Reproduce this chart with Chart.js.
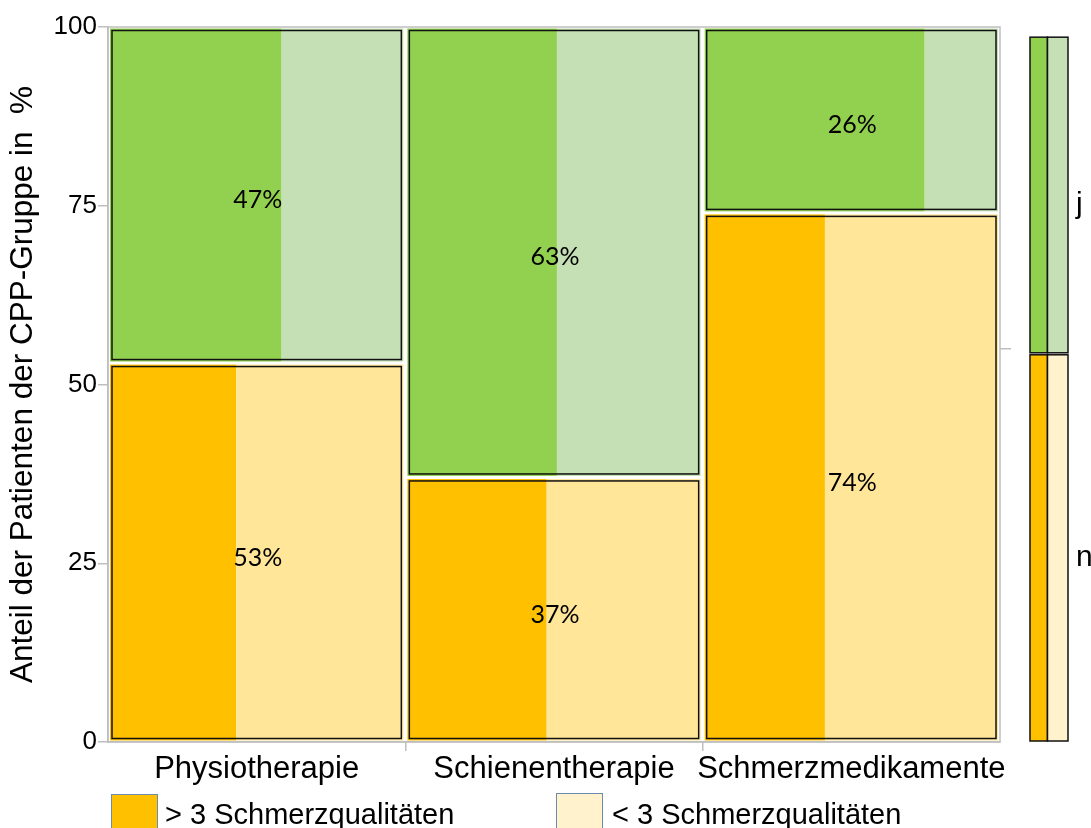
<!DOCTYPE html>
<html>
<head>
<meta charset="utf-8">
<script src="https://cdn.jsdelivr.net/npm/chart.js@4/dist/chart.umd.min.js"></script>
<style>
html, body { margin: 0; padding: 0; background: #fff; overflow: hidden; }
#wrap { position: relative; width: 1091px; height: 828px; overflow: hidden; }
.lg { position: absolute; font: 29px 'Liberation Sans', Arial, sans-serif; line-height: 29px; color: #000; white-space: nowrap; }
.sw { position: absolute; width: 47px; height: 40px; border: 1.5px solid #6a8ab0; box-sizing: border-box; }
</style>
</head>
<body>
<div id="wrap">
    <canvas id="chart" width="1091" height="828"></canvas>
    <div class="sw" style="left:111px;top:794px;background:#FFC000"></div>
    <div class="lg" style="left:165px;top:800px">&gt; 3 Schmerzqualitäten</div>
    <div class="sw" style="left:556px;top:793px;background:#FFF2CC"></div>
    <div class="lg" style="left:612px;top:800px">&lt; 3 Schmerzqualitäten</div>
</div>
<script>
const categories = ['Physiotherapie', 'Schienentherapie', 'Schmerzmedikamente'];
const anteilJa = [47, 63, 26];          // j, in %
const anteilNein = [53, 37, 74];        // n, in %
const mehrQualJa = [58.5, 51, 75];      // Anteil > 3 Schmerzqualitäten innerhalb j
const mehrQualNein = [43, 47.5, 41];    // Anteil > 3 Schmerzqualitäten innerhalb n
const gesamtNein = 55;                  // Randverteilung n
const gesamtMehrQual = 46;              // Randverteilung > 3 Schmerzqualitäten
const yTicks = [0, 25, 50, 75, 100];
const segLabels = ['j', 'n'];

const COLORS = {
    green: '#92D050',
    greenLight: '#C5E0B4',
    orange: '#FFC000',
    orangeLight: '#FFE699',
    orangePale: '#FFF2CC',
    frame: '#BFBFBF'
};

const mosaicPlugin = {
    id: 'mosaic',
    beforeDatasetsDraw(chart) {
        const { ctx, chartArea: a, scales: { x, y, y2 } } = chart;
        ctx.save();

        // Rahmen
        ctx.strokeStyle = COLORS.frame;
        ctx.lineWidth = 1.5;
        ctx.strokeRect(a.left, a.top, a.right - a.left, a.bottom - a.top);

        categories.forEach((cat, i) => {
            const x0 = x.getPixelForValue(i), x1 = x.getPixelForValue(i + 1);
            const blocks = [
                { lo: 0, hi: anteilNein[i], dark: COLORS.orange, light: COLORS.orangeLight, share: mehrQualNein[i], label: anteilNein[i] },
                { lo: anteilNein[i], hi: 100, dark: COLORS.green, light: COLORS.greenLight, share: mehrQualJa[i], label: anteilJa[i] }
            ];
            blocks.forEach(b => {
                const top = y.getPixelForValue(b.hi) + 1.5, bot = y.getPixelForValue(b.lo) - 1.5;
                const l = x0 + 2, r = x1 - 2;
                const split = l + (r - l) * b.share / 100;
                ctx.fillStyle = b.dark;
                ctx.fillRect(l, top, split - l, bot - top);
                ctx.fillStyle = b.light;
                ctx.fillRect(split, top, r - split, bot - top);
                ctx.strokeStyle = '#111';
                ctx.lineWidth = 1.5;
                ctx.strokeRect(l + 2, top + 2, r - l - 4, bot - top - 4);

                ctx.fillStyle = '#000';
                ctx.font = '25px Lato, "Open Sans", sans-serif';
                ctx.textAlign = 'center';
                ctx.textBaseline = 'middle';
                ctx.fillText(b.label + '%', (x0 + x1) / 2 + 1, (top + bot) / 2 + 5);
            });
        });

        // Randbalken rechts
        const ml = a.right + 30, mr = a.right + 68;
        const ms = ml + (mr - ml) * gesamtMehrQual / 100;
        const segs = [
            { lo: 0, hi: gesamtNein, dark: COLORS.orange, light: COLORS.orangePale, label: segLabels[1] },
            { lo: gesamtNein, hi: 100, dark: COLORS.green, light: COLORS.greenLight, label: segLabels[0] }
        ];
        segs.forEach(s => {
            const top = y2.getPixelForValue(s.hi) + 1, bot = y2.getPixelForValue(s.lo) - 1;
            ctx.lineWidth = 1.5;
            ctx.strokeStyle = '#111';
            ctx.fillStyle = s.dark;
            ctx.fillRect(ml, top, ms - ml, bot - top);
            ctx.strokeRect(ml, top, ms - ml, bot - top);
            ctx.fillStyle = s.light;
            ctx.fillRect(ms, top, mr - ms, bot - top);
            ctx.strokeRect(ms, top, mr - ms, bot - top);

            ctx.fillStyle = '#000';
            ctx.font = '30px "Liberation Sans", Arial, sans-serif';
            ctx.textAlign = 'left';
            ctx.textBaseline = 'alphabetic';
            ctx.fillText(s.label, a.right + 76, (top + bot) / 2 + 18);
        });

        // Marke rechts für Randverteilung
        const yt = y.getPixelForValue(gesamtNein);
        ctx.strokeStyle = COLORS.frame;
        ctx.lineWidth = 1.5;
        ctx.beginPath();
        ctx.moveTo(a.right, yt);
        ctx.lineTo(a.right + 11, yt);
        ctx.stroke();

        ctx.restore();
    }
};

Chart.defaults.font.family = '"Liberation Sans", Arial, sans-serif';
Chart.defaults.color = '#000';

new Chart(document.getElementById('chart').getContext('2d'), {
    type: 'scatter',
    data: { datasets: [] },
    options: {
        responsive: false,
        animation: false,
        layout: { padding: { top: 27, right: 91, left: 0, bottom: 0 } },
        plugins: { legend: { display: false }, tooltip: { enabled: false } },
        scales: {
            x: {
                type: 'linear',
                min: 0,
                max: categories.length,
                afterBuildTicks: s => {
                    const t = [];
                    for (let i = 0; i <= categories.length; i++) {
                        t.push({ value: i });
                        if (i < categories.length) t.push({ value: i + 0.5 });
                    }
                    s.ticks = t;
                },
                afterFit: s => { s.height = 86; },
                ticks: {
                    autoSkip: false,
                    maxRotation: 0,
                    minRotation: 0,
                    padding: 0,
                    font: { size: 31 },
                    callback: v => Number.isInteger(v) ? '' : categories[Math.floor(v)]
                },
                grid: {
                    drawOnChartArea: false,
                    tickLength: 9,
                    lineWidth: 1.5,
                    tickColor: c => (c.tick && Number.isInteger(c.tick.value) && c.tick.value > 0 && c.tick.value < categories.length) ? COLORS.frame : 'rgba(0,0,0,0)'
                },
                border: { display: true, color: COLORS.frame, width: 1.5 }
            },
            y: {
                min: 0,
                max: 100,
                afterBuildTicks: s => { s.ticks = yTicks.map(v => ({ value: v })); },
                afterFit: s => { s.width = 108; },
                ticks: { padding: 1, font: { size: 26 } },
                grid: { drawOnChartArea: false, tickLength: 10, lineWidth: 1.5, tickColor: COLORS.frame },
                border: { display: true, color: COLORS.frame, width: 1.5 },
                title: {
                    display: true,
                    text: 'Anteil der Patienten der CPP-Gruppe in  %',
                    font: { size: 31.5 },
                    padding: { top: 4, bottom: 0 }
                }
            },
            y2: {
                type: 'linear',
                display: false,
                min: 0,
                max: 101.3
            }
        }
    },
    plugins: [mosaicPlugin]
});
</script>
</body>
</html>
